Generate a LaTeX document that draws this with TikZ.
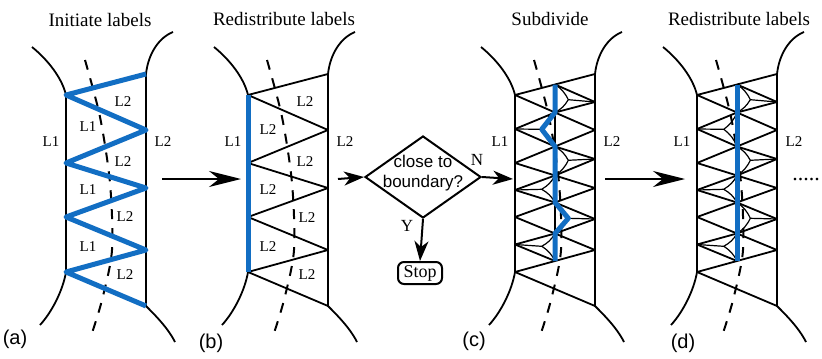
\documentclass[tikz,border=0pt]{standalone}
\usepackage{fontspec}
\setmainfont{Liberation Serif}
\setsansfont{Liberation Sans}
\usetikzlibrary{positioning, arrows.meta, shapes.geometric}
\definecolor{lineblue}{RGB}{18,110,195}

% Zickzack der Dreiecke und Unterteilung (lokale Koordinaten)
\newcommand{\zigzag}{(146,74) -- (66,95) -- (146,130) -- (66,163) -- (146,188) -- (66,217) -- (146,250) -- (66,272) -- (146,306)}
\newcommand{\subdiv}{(106,84.5) -- (146,102) -- (106,112.5) -- (66,129) -- (106,146.5) -- (146,159) -- (106,175.5) -- (66,190) -- (106,202.5) -- (146,219) -- (106,233.5) -- (66,244.5) -- (106,261)}

\begin{document}
\begin{tikzpicture}[
        x=0.5pt, y=-0.5pt,
        bnd/.style={line width=0.9pt},
        mesh/.style={line width=0.9pt, line join=round},
        thinmesh/.style={line width=0.6pt},
        cut/.style={line width=1pt, dash pattern=on 5pt off 4.5pt},
        blueln/.style={lineblue, line width=2.5pt, line join=round},
        lbl/.style={font=\fontsize{7.5}{8}\selectfont, inner sep=1pt},
        ttl/.style={font=\fontsize{9.5}{10}\selectfont},
        tag/.style={font=\sffamily\fontsize{10}{12}\selectfont},
        flow/.style={line width=1pt, -{Stealth[length=16pt, width=8pt, inset=5pt]}},
        flowshort/.style={line width=1pt, -{Stealth[length=10pt, width=7pt, inset=3pt]}},
        decision/.style={diamond, draw, line width=1pt, minimum width=58pt, minimum height=41pt, inner sep=0pt},
        stopbox/.style={draw, rounded corners=3pt, line width=1pt, minimum width=22pt, minimum height=11pt, inner sep=1pt, font=\fontsize{9}{10}\selectfont}
    ]

    \useasboundingbox (0,0) rectangle (822,358);

    % Rahmen aller vier Teilbilder
    \foreach \dx/\p/\tx/\ty in {0/a/15/339, 182/b/29/343, 449/c/25/341, 631/d/52/343}{
        \begin{scope}[shift={(\dx,0)}]
            \draw[bnd] (32,47) .. controls (48,60) and (62,78) .. (66,95) -- (66,272) .. controls (63,290) and (52,312) .. (40,325);
            \draw[bnd] (173,32) .. controls (158,38) and (148,55) .. (146,74) -- (146,306) .. controls (155,315) and (168,328) .. (175,342);
            \draw[cut] plot[smooth] coordinates {(85,60) (100,117) (110,183) (112,250) (102,300) (92,333)};
            \node[lbl] (\p-l1) at (51,142) {L1};
            \node[lbl] (\p-l2) at (163,142) {L2};
            \node[tag] (\p-tag) at (\tx,\ty) {(\p)};
        \end{scope}
    }

    % (a) Initiate labels
    \node[ttl] (ta) at (100,20) {Initiate labels};
    \draw[blueln] \zigzag;
    \node[lbl] (a-i1) at (123,102) {L2};
    \node[lbl] (a-i2) at (88,127) {L1};
    \node[lbl] (a-i3) at (123,162) {L2};
    \node[lbl] (a-i4) at (88,190) {L1};
    \node[lbl] (a-i5) at (125,217) {L2};
    \node[lbl] (a-i6) at (88,247) {L1};
    \node[lbl] (a-i7) at (125,275) {L2};

    % (b) Redistribute labels
    \node[ttl] (tb) at (284,19) {Redistribute labels};
    \begin{scope}[shift={(182,0)}]
        \draw[mesh] \zigzag;
        \draw[blueln] (66,95) -- (66,272);
        \foreach \y/\x [count=\i] in {102/123, 130/86, 162/123, 190/86, 218/125, 247/86, 275/125}
            \node[lbl] (b-i\i) at (\x,\y) {L2};
    \end{scope}

    % Entscheidung
    \node[decision] (dec) at (423,177) {};
    \node[font=\sffamily\fontsize{8.5}{10}\selectfont, align=center] (dectext) at (423,173) {close to\\boundary?};
    \node[stopbox] (stop) at (420,273) {Stop};
    \node[font=\fontsize{8.5}{9}\selectfont] (yes) at (407,226) {Y};
    \node[font=\fontsize{8.5}{9}\selectfont] (no) at (477,160) {N};

    % (c) Subdivide und (d) Redistribute labels
    \node[ttl] (tc) at (550,19) {Subdivide};
    \node[ttl] (td) at (739,19) {Redistribute labels};
    \foreach \dx in {449, 631}{
        \begin{scope}[shift={(\dx,0)}]
            \draw[mesh] \zigzag;
            \draw[mesh] \subdiv;
            \draw[mesh] (106,84.5) -- (106,261);
            \foreach \cx/\cy/\ax/\ay/\t/\b in {119.3/99.7/146/102/84.5/112.5, 92.7/129.3/66/129/112.5/146.5, 119.3/160.3/146/159/146.5/175.5, 92.7/189.3/66/190/175.5/202.5, 119.3/218.3/146/219/202.5/233.5, 92.7/246.3/66/244.5/233.5/261}
                \draw[thinmesh] (\ax,\ay) -- (\cx,\cy) (106,\t) to[bend left=15] (\cx,\cy) (106,\b) to[bend right=15] (\cx,\cy);
        \end{scope}
    }
    \begin{scope}[shift={(449,0)}]
        \draw[blueln] (106,84.5) -- (106,112.5) -- (92.7,129.3) -- (106,146.5) -- (106,202.5) -- (119.3,218.3) -- (106,233.5) -- (106,261);
    \end{scope}
    \begin{scope}[shift={(631,0)}]
        \draw[blueln] (106,84.5) -- (106,261);
    \end{scope}
    \node[font=\fontsize{11}{11}\selectfont] (more) at (806,180) {.....};

    % Pfeile
    \coordinate (a-out) at (162,179);
    \coordinate (b-in) at (241,179);
    \coordinate (b-out) at (338,179);
    \coordinate (c-in) at (513,179);
    \coordinate (c-out) at (605,179);
    \coordinate (d-in) at (685,179);
    \draw[flow] (a-out) -- (b-in);
    \draw[flowshort] (b-out) -- (dec.west);
    \draw[flowshort] (dec.east) -- (c-in);
    \draw[flowshort] (dec.south) -- (stop.north);
    \draw[flow] (c-out) -- (d-in);

\end{tikzpicture}
\end{document}
